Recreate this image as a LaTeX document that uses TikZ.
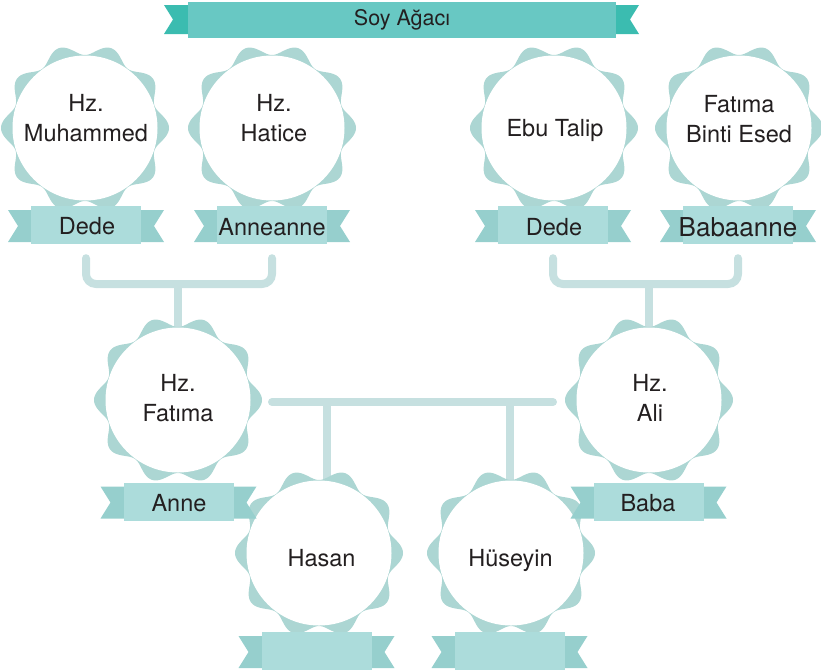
\documentclass[tikz,border=0pt]{standalone}
\usepackage{fontspec}
\setmainfont{TeX Gyre Heros}
\usetikzlibrary{backgrounds}
\definecolor{wavyc}{HTML}{ACD6D3}
\definecolor{ribc}{HTML}{ACDCDB}
\definecolor{tailc}{HTML}{96CFCD}
\definecolor{connc}{HTML}{C6E0E0}
\definecolor{titc}{HTML}{68C8C3}
\definecolor{tittail}{HTML}{3BBCB0}
\definecolor{txtc}{HTML}{231F20}
\tikzset{
  conn/.style={draw=connc, line width=8pt, line cap=round},
  disc/.style={circle, fill=white, minimum size=145pt, inner sep=0pt},
  nametext/.style={text=txtc, font=\fontsize{23.5}{30}\selectfont, align=center, inner sep=0pt},
  ribbox/.style={fill=ribc, minimum width=110pt, minimum height=38pt, inner sep=0pt, text=txtc, font=\fontsize{23.5}{28}\selectfont},
  ribtext/.style={text=txtc, font=\fontsize{23.5}{28}\selectfont, inner sep=0pt},
}
\newcommand\wavyshape[2]{\fill[wavyc, shift={(#1,#2)}] plot[variable=\t, domain=0:360, samples=241, smooth] ({(78.5+5.5*cos(10*\t))*cos(\t)},{(78.5+5.5*cos(10*\t))*sin(\t)}) -- cycle;}
\newcommand\ribtails[2]{\begin{scope}[shift={(#1,#2)}]
 \fill[tailc] (-54,-15) -- (-78,-15) -- (-68,1) -- (-78,17) -- (-54,17) -- cycle;
 \fill[tailc] (54,-15) -- (78,-15) -- (68,1) -- (78,17) -- (54,17) -- cycle;
\end{scope}}
\begin{document}
\begin{tikzpicture}[x=1pt, y=-1pt]
\useasboundingbox (0,0) rectangle (821,670);
% title banner
\fill[tittail] (190,5) -- (164,5) -- (173,19.5) -- (164,34) -- (190,34) -- cycle;
\fill[tittail] (614,5) -- (639,5) -- (630,19.5) -- (639,34) -- (614,34) -- cycle;
\node[fill=titc, minimum width=428pt, minimum height=36pt, inner sep=0pt, text=txtc, font=\fontsize{21.5}{24}\selectfont] (title) at (402,20) {Soy Ağacı};
% badges
\wavyshape{85}{128}  \node[disc] (muhC) at (85,128) {};
\wavyshape{272}{128} \node[disc] (hatC) at (272,128) {};
\wavyshape{554}{128} \node[disc] (ebuC) at (554,128) {};
\wavyshape{739}{128} \node[disc] (fbeC) at (739,128) {};
\wavyshape{178}{400} \node[disc] (fatC) at (178,400) {};
\wavyshape{649}{400} \node[disc] (aliC) at (649,400) {};
\wavyshape{319}{553} \node[disc] (hasC) at (319,553) {};
\wavyshape{511}{553} \node[disc] (husC) at (511,553) {};
\node[nametext] (muh) at (86,118.6) {Hz.\\Muhammed};
\node[nametext] (hat) at (274,118.6) {Hz.\\Hatice};
\node[nametext] (ebu) at (555,130.5) {Ebu Talip};
\node[nametext] (fbe) at (739,119.5) {Fatıma\\Binti Esed};
\node[nametext] (fat) at (178,398.6) {Hz.\\Fatıma};
\node[nametext] (ali) at (650,397.6) {Hz.\\Ali};
\node[nametext] (has) at (321.5,557.6) {Hasan};
\node[nametext] (hus) at (510.5,560) {Hüseyin};
% ribbons
\ribtails{86}{225}    \node[ribbox] (rb1) at (86,225) {};
\ribtails{272}{225}   \node[ribbox] (rb2) at (272,225) {};
\ribtails{553}{225}   \node[ribbox] (rb3) at (553,225) {};
\ribtails{738}{225}   \node[ribbox] (rb4) at (738,225) {};
\ribtails{178.5}{501.5} \node[ribbox] (rb5) at (178.5,501.5) {};
\ribtails{648.5}{501.5} \node[ribbox] (rb6) at (648.5,501.5) {};
\ribtails{316.5}{651} \node[ribbox] (rb7) at (316.5,651) {};
\ribtails{509.5}{651} \node[ribbox] (rb8) at (509.5,651) {};
\node[ribtext] (l1) at (87,226.5) {Dede};
\node[ribtext] (l2) at (272,227) {Anneanne};
\node[ribtext] (l3) at (554,227) {Dede};
\node[ribtext, font=\fontsize{26}{30}\selectfont] (l4) at (738,227.5) {Babaanne};
\node[ribtext] (l5) at (179,503) {Anne};
\node[ribtext] (l6) at (648,503) {Baba};
% connectors
\coordinate (j1) at (178,284);
\coordinate (j2) at (649,284);
\coordinate (barL) at (272,402);
\coordinate (barR) at (553,402);
\coordinate (dh1) at (327,402);
\coordinate (dh2) at (510,402);
\begin{scope}[on background layer]
\draw[conn, rounded corners=10pt] ([yshift=-14pt]rb1.south) |- (j1) -| ([yshift=-14pt]rb2.south);
\draw[conn, rounded corners=10pt] ([yshift=-14pt]rb3.south) |- (j2) -| ([yshift=-14pt]rb4.south);
\draw[conn] (j1) -- (fatC.center);
\draw[conn] (j2) -- (aliC.center);
\draw[conn] (barL) -- (barR);
\draw[conn] (dh1) -- (dh1 |- hasC.center);
\draw[conn] (dh2) -- (dh2 |- husC.center);
\end{scope}
\end{tikzpicture}
\end{document}
